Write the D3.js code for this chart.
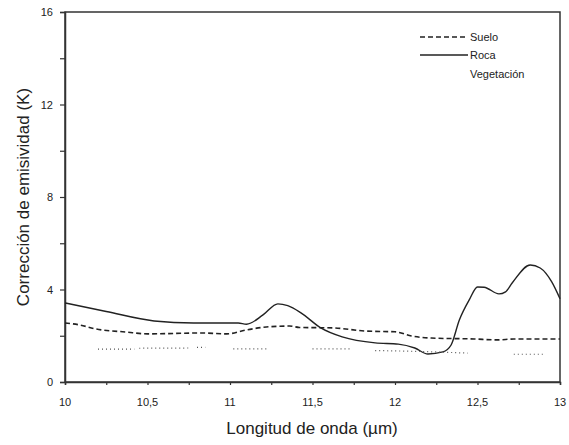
<!DOCTYPE html>
<html><head><meta charset="utf-8">
<script src="https://cdn.jsdelivr.net/npm/d3@7"></script>
<style>body{margin:0;background:#fff}svg{display:block}text{font-family:"Liberation Sans",Arial,sans-serif;fill:#222}</style>
</head><body><svg id="c" width="569" height="445"></svg>
<script>
const xTicks = [10,10.25,10.5,10.75,11,11.25,11.5,11.75,12,12.25,12.5,12.75,13];
const xTickLabels = ["10","10,5","11","11,5","12","12,5","13"];
const yTicks = [0,2,4,6,8,10,12,14,16];
const yTickLabels = ["0","4","8","12","16"];
const seriesNames = ["Suelo","Roca","Vegetación"];

const sueloX = [10,10.08,10.19,10.37,10.5,10.82,10.98,11.1,11.22,11.36,11.42,11.62,11.83,12.0,12.1,12.22,12.48,12.62,12.72,13];
const sueloY = [2.55,2.48,2.29,2.16,2.08,2.12,2.08,2.25,2.38,2.42,2.36,2.34,2.2,2.17,1.99,1.9,1.86,1.82,1.86,1.86];

const rocaX = [10,10.25,10.54,10.78,11.05,11.1,11.2,11.29,11.35,11.43,11.55,11.68,11.88,12.02,12.12,12.2,12.29,12.34,12.39,12.45,12.5,12.54,12.63,12.67,12.71,12.82,12.88,12.95,13];
const rocaY = [3.42,3.05,2.64,2.55,2.55,2.5,2.9,3.38,3.3,2.99,2.34,1.95,1.69,1.64,1.47,1.21,1.3,1.6,2.68,3.55,4.11,4.1,3.81,3.9,4.28,5.06,4.93,4.33,3.6];

// vegetation: null marks gaps visible in the reference
const vegX = [10.2,10.42,null,10.45,10.76,null,10.8,10.85,null,11.02,11.22,null,11.5,11.74,null,11.88,12.15,12.44,null,12.72,12.9];
const vegY = [1.42,1.42,null,1.46,1.47,null,1.5,1.5,null,1.43,1.43,null,1.43,1.43,null,1.36,1.32,1.25,null,1.2,1.2];

const svg = d3.select("#c");
const L = 65, R = 560, T = 12, B = 382;
const x = d3.scaleLinear().domain([10,13]).range([L,R]);
const y = d3.scaleLinear().domain([0,16]).range([B,T]);

const zip = (xs,ys)=>xs.map((v,i)=>({x:v,y:ys[i]}));
const line = d3.line().defined(d=>d.x!==null&&d.y!==null).x(d=>x(d.x)).y(d=>y(d.y)).curve(d3.curveMonotoneX);

// frame
svg.append("rect").attr("x",L).attr("y",T).attr("width",R-L).attr("height",B-T)
  .attr("fill","none").attr("stroke","#333").attr("stroke-width",1.5);

// axes
const xAxis = d3.axisBottom(x).tickValues(xTicks).tickSize(3).tickFormat("");
const gx = svg.append("g").attr("transform",`translate(0,${B})`).call(xAxis);
gx.select(".domain").attr("stroke","#333").attr("stroke-width",1.5);
gx.selectAll(".tick line").attr("stroke","#333").attr("stroke-width",1.2);
const xl = [10,10.5,11,11.5,12,12.5,13];
svg.selectAll(".xl").data(xl).enter().append("text")
  .attr("x",d=>x(d)).attr("y",B+24).attr("text-anchor","middle").attr("font-size",11)
  .text((d,i)=>xTickLabels[i]);

const yAxis = d3.axisLeft(y).tickValues(yTicks).tickSize(5).tickFormat("");
const gy = svg.append("g").attr("transform",`translate(${L},0)`).call(yAxis);
gy.select(".domain").attr("stroke","#333").attr("stroke-width",1.5);
gy.selectAll(".tick line").attr("stroke","#333").attr("stroke-width",1.2);
const yl = [0,4,8,12,16];
svg.selectAll(".yl").data(yl).enter().append("text")
  .attr("x",L-12).attr("y",d=>y(d)+4).attr("text-anchor","end").attr("font-size",11)
  .text((d,i)=>yTickLabels[i]);

// axis titles
svg.append("text").attr("x",312).attr("y",434).attr("text-anchor","middle").attr("font-size",17)
  .text("Longitud de onda (µm)");
svg.append("text").attr("transform",`translate(29,${(T+B)/2}) rotate(-90)`).attr("text-anchor","middle")
  .attr("font-size",17).text("Corrección de emisividad (K)");

// series
svg.append("path").datum(zip(sueloX,sueloY)).attr("d",line).attr("fill","none")
  .attr("stroke","#222").attr("stroke-width",1.6).attr("stroke-dasharray","5,3");
svg.append("path").datum(zip(rocaX,rocaY)).attr("d",line).attr("fill","none")
  .attr("stroke","#222").attr("stroke-width",1.4);
svg.append("path").datum(zip(vegX,vegY)).attr("d",line).attr("fill","none")
  .attr("stroke","#555").attr("stroke-width",1.2).attr("stroke-dasharray","1,3");

// legend
const lg = [{n:seriesNames[0],y:37,dash:"5,3",show:true},{n:seriesNames[1],y:55,dash:null,show:true},{n:seriesNames[2],y:74,dash:null,show:false}];
lg.forEach(d=>{
  if(d.show){
    svg.append("line").attr("x1",420).attr("x2",468).attr("y1",d.y).attr("y2",d.y)
      .attr("stroke","#222").attr("stroke-width",1.3).attr("stroke-dasharray",d.dash);
  }
  svg.append("text").attr("x",470).attr("y",d.y+4).attr("font-size",11).text(d.n);
});
</script></body></html>
